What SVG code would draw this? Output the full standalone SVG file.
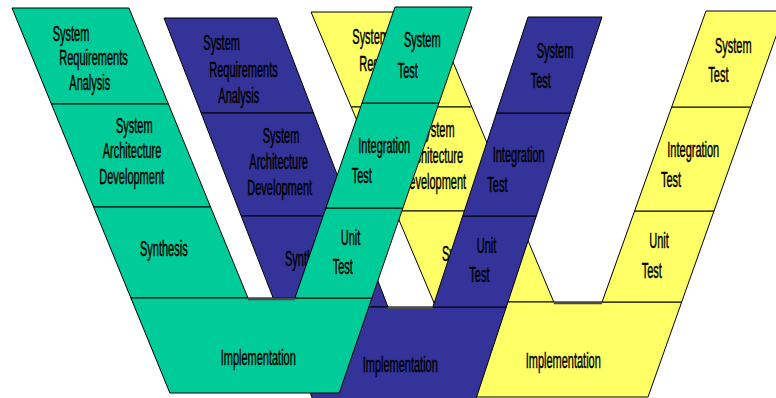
<svg xmlns="http://www.w3.org/2000/svg" width="776" height="398" viewBox="0 0 776 398">
<style>
.g{fill:#00CC99;stroke:#000;stroke-width:1;stroke-linejoin:miter}
.b{fill:#333399;stroke:#000;stroke-width:1}
.y{fill:#FFFF66;stroke:#000;stroke-width:1}
.notch{stroke:#4a4a4a;stroke-width:2.5;fill:none}
text{font-family:"Liberation Sans",Arial,sans-serif;font-size:22px;fill:#000;stroke:#000;stroke-width:0.5}
</style>
<rect width="776" height="398" fill="#fff"/>

<g id="yellow-v">
  <g id="y-sysreq"><polygon class="y" points="311,12 432,12 471.9,107 351.2,107"/>
    <text transform="translate(352.3,44) scale(0.5,1)">System</text>
    <text transform="translate(359.3,71) scale(0.5,1)">Requirements</text></g>
  <g id="y-sysarch"><polygon class="y" points="351.2,107 471.9,107 515.6,211 395.2,211"/>
    <text transform="translate(418,137) scale(0.5,1)">System</text>
    <text transform="translate(404.5,163) scale(0.5,1)">Architecture</text>
    <text transform="translate(401.4,189) scale(0.5,1)">Development</text></g>
  <g id="y-synth"><polygon class="y" points="395.2,211 515.6,211 553.8,302 433.7,302"/>
    <text transform="translate(442,261) scale(0.5,1)">Synthesis</text></g>
  <g id="y-impl"><polygon class="y" points="433.7,302 681.7,302 648,397 473.9,397"/>
    <text transform="translate(525.7,368) scale(0.5,1)">Implementation</text></g>
  <g id="y-unit"><polygon class="y" points="634.6,211 714,211 681.7,302 602.1,302"/>
    <text transform="translate(649.3,248) scale(0.5,1)">Unit</text>
    <text transform="translate(641.7,278) scale(0.5,1)">Test</text></g>
  <g id="y-integ"><polygon class="y" points="671.7,107 750.9,107 714,211 634.6,211"/>
    <text transform="translate(667.3,157) scale(0.5,1)">Integration</text>
    <text transform="translate(661,187) scale(0.5,1)">Test</text></g>
  <g id="y-systest"><polygon class="y" points="706,11 785,11 750.9,107 671.7,107"/>
    <text transform="translate(715,53) scale(0.5,1)">System</text>
    <text transform="translate(708.3,82) scale(0.5,1)">Test</text></g>
  <line class="notch" x1="553.8" y1="303" x2="602.1" y2="303"/>
</g>

<g id="blue-v">
  <g id="b-sysreq"><polygon class="b" points="164,18 277,18 313.5,113 201.1,113"/>
    <text transform="translate(203.3,50) scale(0.5,1)">System</text>
    <text transform="translate(209.3,77) scale(0.5,1)">Requirements</text>
    <text transform="translate(218.3,103) scale(0.5,1)">Analysis</text></g>
  <g id="b-sysarch"><polygon class="b" points="201.1,113 313.5,113 353,216 241.2,216"/>
    <text transform="translate(262.7,143) scale(0.5,1)">System</text>
    <text transform="translate(249.3,169) scale(0.5,1)">Architecture</text>
    <text transform="translate(247.3,195) scale(0.5,1)">Development</text></g>
  <g id="b-synth"><polygon class="b" points="241.2,216 353,216 388,307 276.7,307"/>
    <text transform="translate(285,266) scale(0.5,1)">Synthesis</text></g>
  <g id="b-impl"><polygon class="b" points="276.7,307 506.3,307 474.6,403 314.2,403"/>
    <text transform="translate(362.7,372) scale(0.5,1)">Implementation</text></g>
  <g id="b-unit"><polygon class="b" points="462.7,216 536.3,216 506.3,307 432.9,307"/>
    <text transform="translate(476.7,253) scale(0.5,1)">Unit</text>
    <text transform="translate(469.3,282) scale(0.5,1)">Test</text></g>
  <g id="b-integ"><polygon class="b" points="496.5,113 570.3,113 536.3,216 462.7,216"/>
    <text transform="translate(492.7,162) scale(0.5,1)">Integration</text>
    <text transform="translate(487.3,192) scale(0.5,1)">Test</text></g>
  <g id="b-systest"><polygon class="b" points="528,17 602,17 570.3,113 496.5,113"/>
    <text transform="translate(536.7,58) scale(0.5,1)">System</text>
    <text transform="translate(530.7,88) scale(0.5,1)">Test</text></g>
  <line class="notch" x1="388" y1="308" x2="432.9" y2="308"/>
</g>

<g id="green-v">
  <g id="g-sysreq"><polygon class="g" points="12,8 129,8 168.4,104 51.4,104"/>
    <text transform="translate(52.7,41) scale(0.5,1)">System</text>
    <text transform="translate(59.3,65) scale(0.5,1)">Requirements</text>
    <text transform="translate(69.3,90) scale(0.5,1)">Analysis</text></g>
  <g id="g-sysarch"><polygon class="g" points="51.4,104 168.4,104 210.6,207 93.6,207"/>
    <text transform="translate(116,133) scale(0.5,1)">System</text>
    <text transform="translate(102.7,158) scale(0.5,1)">Architecture</text>
    <text transform="translate(99.3,184) scale(0.5,1)">Development</text></g>
  <g id="g-synth"><polygon class="g" points="93.6,207 210.6,207 248,298 130.9,298"/>
    <text transform="translate(140,256) scale(0.5,1)">Synthesis</text></g>
  <g id="g-impl"><polygon class="g" points="130.9,298 371.9,298 339.2,393 169.9,393"/>
    <text transform="translate(220.7,365) scale(0.5,1)">Implementation</text></g>
  <g id="g-unit"><polygon class="g" points="325.9,208 402.9,208 371.9,298 294.9,298"/>
    <text transform="translate(340.7,245) scale(0.5,1)">Unit</text>
    <text transform="translate(332.7,274) scale(0.5,1)">Test</text></g>
  <g id="g-integ"><polygon class="g" points="362,103 439,103 402.9,208 325.9,208"/>
    <text transform="translate(358.3,153) scale(0.5,1)">Integration</text>
    <text transform="translate(351.7,183) scale(0.5,1)">Test</text></g>
  <g id="g-systest"><polygon class="g" points="395,7 472,7 439,103 362,103"/>
    <text transform="translate(404,47) scale(0.5,1)">System</text>
    <text transform="translate(397.7,78) scale(0.5,1)">Test</text></g>
  <line class="notch" x1="248" y1="299" x2="294.9" y2="299"/>
</g>

<g id="connectors"/>
</svg>
